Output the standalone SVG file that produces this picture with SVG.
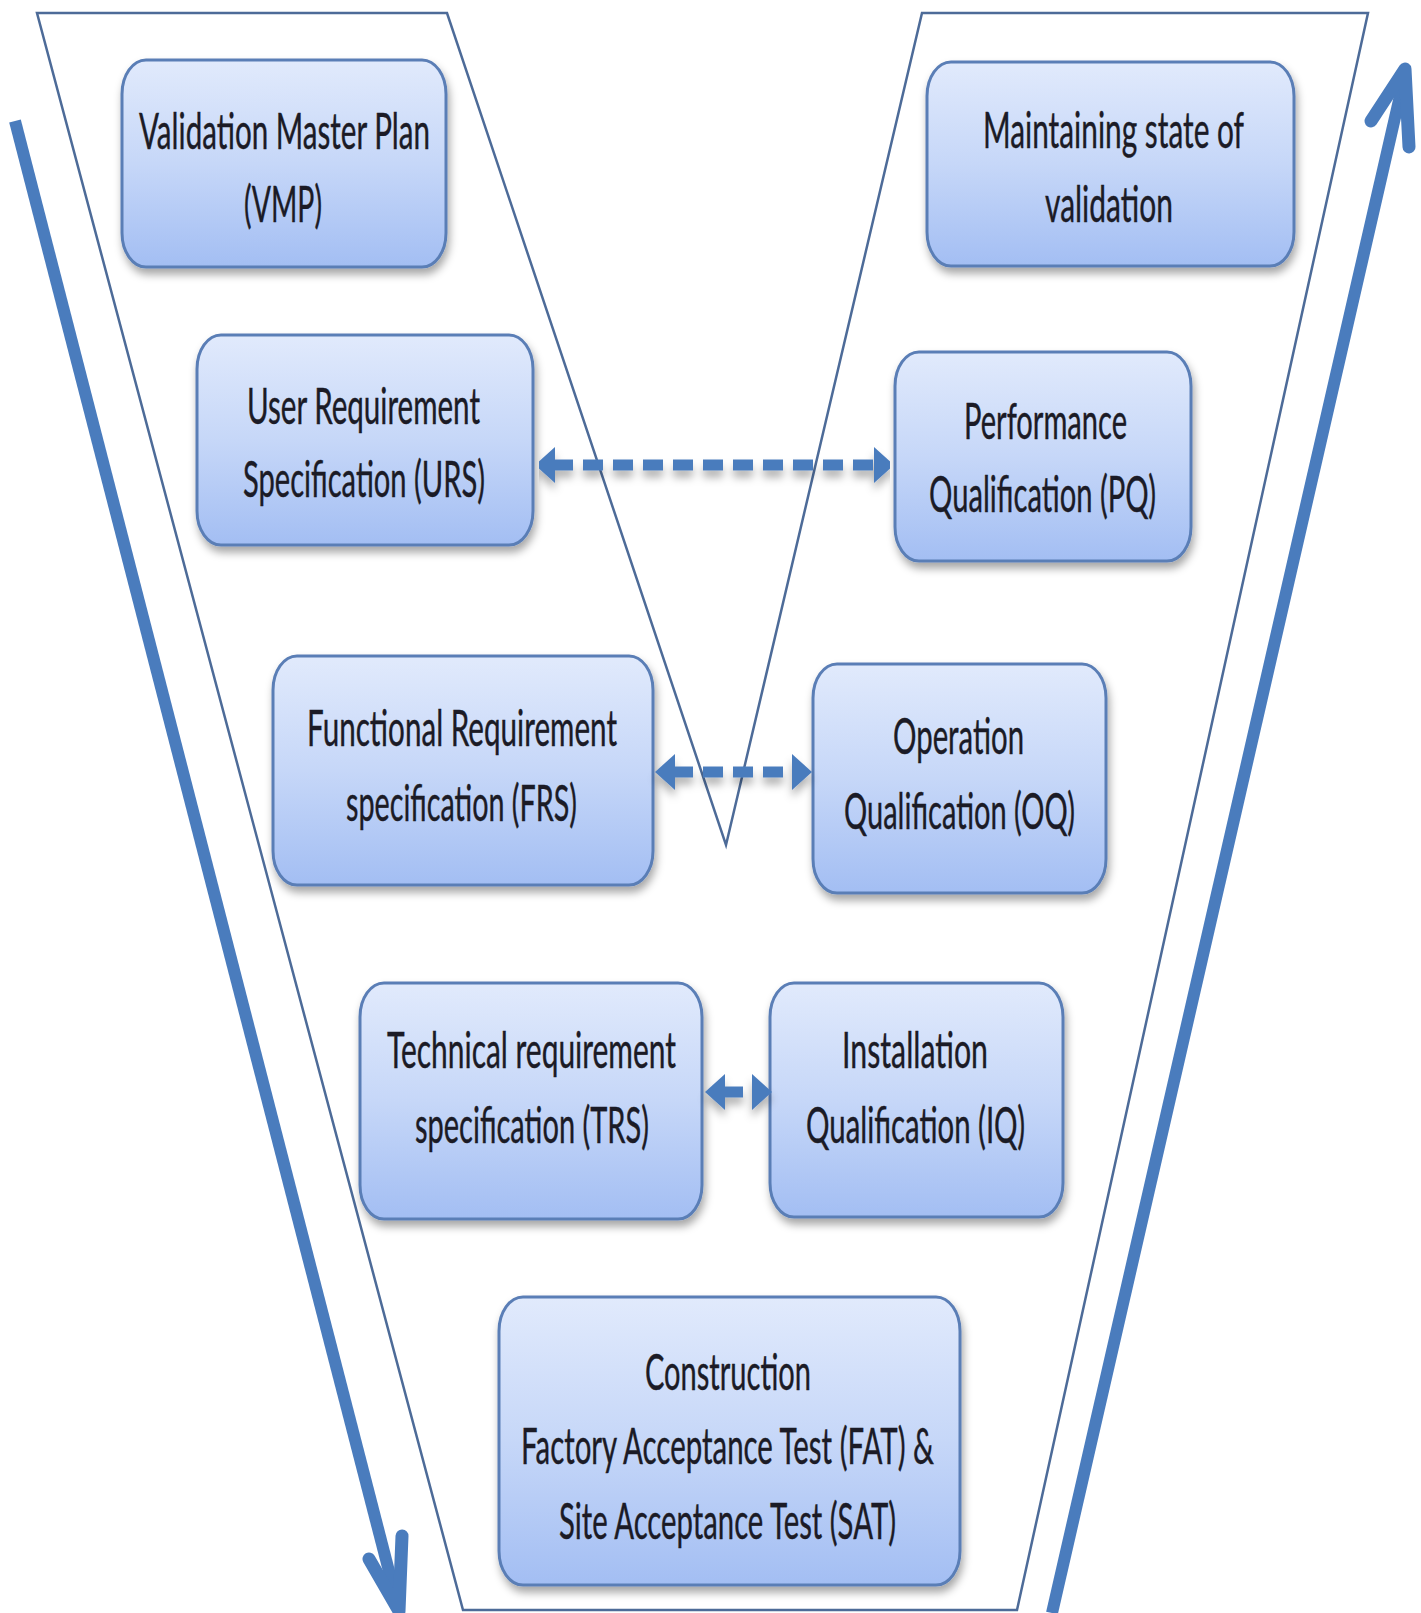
<svg xmlns="http://www.w3.org/2000/svg" width="1421" height="1613" viewBox="0 0 1421 1613">
<style>
.box{fill:url(#bg);stroke:#5a7eb6;stroke-width:3;filter:url(#sh)}
.t{font-family:Lato,"Open Sans","Liberation Sans",sans-serif;font-size:30px;fill:#1b1b26;text-anchor:middle;stroke:#1b1b26;stroke-width:0.25}
.frame{fill:none;stroke:#4d6b98;stroke-width:2.5;stroke-linejoin:miter}
.big{fill:none;stroke:#4a7cbd;stroke-width:12;stroke-linecap:butt}
.head{fill:none;stroke:#4a7cbd;stroke-width:13;stroke-linecap:round;stroke-linejoin:round}
.dash{stroke:#4a7cbd;stroke-width:11;stroke-dasharray:20 10;stroke-dashoffset:2;fill:none}
</style>
<defs>
<linearGradient id="bg" x1="0" y1="0" x2="0" y2="1">
<stop offset="0" stop-color="#e1eafc"/>
<stop offset="0.5" stop-color="#c6d7f8"/>
<stop offset="1" stop-color="#a3bef3"/>
</linearGradient>
<filter id="sh" x="-10%" y="-10%" width="125%" height="130%">
<feDropShadow dx="2" dy="6" stdDeviation="4" flood-color="#000" flood-opacity="0.35"/>
</filter>
<filter id="csh" x="-5%" y="-50%" width="110%" height="250%">
<feDropShadow dx="0" dy="7" stdDeviation="4" flood-color="#000" flood-opacity="0.3"/>
</filter>
<marker id="ah" viewBox="0 0 20 36" refX="0" refY="18" markerWidth="20" markerHeight="36" markerUnits="userSpaceOnUse" orient="auto-start-reverse">
<path d="M0,0 L20,18 L0,36 z" fill="#4a7cbd"/>
</marker>
</defs>
<rect width="1421" height="1613" fill="#ffffff"/>

<g id="frame">
<polygon class="frame" points="37,13 447,13 726,845 922,13 1368,13 1017,1610 463,1610"/>
</g>

<g id="flow-arrows">
<line class="big" x1="15" y1="121" x2="399" y2="1610"/>
<polyline class="head" points="369,1559 399,1611 402,1536"/>
<line class="big" x1="1052" y1="1613" x2="1405" y2="74"/>
<polyline class="head" points="1371,121 1405,69 1409,147"/>
</g>

<g id="node-vmp">
<rect class="box" x="122" y="60" width="324" height="207" rx="24" ry="34"/>
<text class="t" transform="translate(284.5,149) scale(1,1.7)" textLength="291" lengthAdjust="spacingAndGlyphs">Validation Master Plan</text>
<text class="t" transform="translate(283,222) scale(1,1.7)" textLength="78" lengthAdjust="spacingAndGlyphs">(VMP)</text>
</g>

<g id="node-maintain">
<rect class="box" x="927" y="62" width="367" height="204" rx="24" ry="34"/>
<text class="t" transform="translate(1113.5,148) scale(1,1.7)" textLength="261" lengthAdjust="spacingAndGlyphs">Maintaining state of</text>
<text class="t" transform="translate(1109,222) scale(1,1.7)" textLength="128" lengthAdjust="spacingAndGlyphs">validation</text>
</g>

<g id="node-urs">
<rect class="box" x="197" y="335" width="336" height="210" rx="24" ry="34"/>
<text class="t" transform="translate(363.5,424) scale(1,1.7)" textLength="233" lengthAdjust="spacingAndGlyphs">User Requirement</text>
<text class="t" transform="translate(364,497) scale(1,1.7)" textLength="242" lengthAdjust="spacingAndGlyphs">Specification (URS)</text>
</g>

<g id="node-pq">
<rect class="box" x="895" y="352" width="296" height="209" rx="24" ry="34"/>
<text class="t" transform="translate(1045.5,439) scale(1,1.7)" textLength="163" lengthAdjust="spacingAndGlyphs">Performance</text>
<text class="t" transform="translate(1042.5,512) scale(1,1.7)" textLength="227" lengthAdjust="spacingAndGlyphs">Qualification (PQ)</text>
</g>

<g id="node-frs">
<rect class="box" x="273" y="656" width="380" height="229" rx="24" ry="34"/>
<text class="t" transform="translate(462,746) scale(1,1.7)" textLength="310" lengthAdjust="spacingAndGlyphs">Functional Requirement</text>
<text class="t" transform="translate(461.5,821) scale(1,1.7)" textLength="231" lengthAdjust="spacingAndGlyphs">specification (FRS)</text>
</g>

<g id="node-oq">
<rect class="box" x="813" y="664" width="293" height="229" rx="24" ry="34"/>
<text class="t" transform="translate(958.5,754) scale(1,1.7)" textLength="131" lengthAdjust="spacingAndGlyphs">Operation</text>
<text class="t" transform="translate(959.5,829) scale(1,1.7)" textLength="231" lengthAdjust="spacingAndGlyphs">Qualification (OQ)</text>
</g>

<g id="node-trs">
<rect class="box" x="360" y="983" width="342" height="236" rx="24" ry="34"/>
<text class="t" transform="translate(531.5,1068) scale(1,1.7)" textLength="289" lengthAdjust="spacingAndGlyphs">Technical requirement</text>
<text class="t" transform="translate(532,1143) scale(1,1.7)" textLength="234" lengthAdjust="spacingAndGlyphs">specification (TRS)</text>
</g>

<g id="node-iq">
<rect class="box" x="770" y="983" width="293" height="234" rx="24" ry="34"/>
<text class="t" transform="translate(915,1068) scale(1,1.7)" textLength="146" lengthAdjust="spacingAndGlyphs">Installation</text>
<text class="t" transform="translate(915.5,1143) scale(1,1.7)" textLength="219" lengthAdjust="spacingAndGlyphs">Qualification (IQ)</text>
</g>

<g id="node-construction">
<rect class="box" x="499" y="1297" width="461" height="288" rx="24" ry="34"/>
<text class="t" transform="translate(728,1390) scale(1,1.7)" textLength="166" lengthAdjust="spacingAndGlyphs">Construction</text>
<text class="t" transform="translate(727.5,1464) scale(1,1.7)" textLength="413" lengthAdjust="spacingAndGlyphs">Factory Acceptance Test (FAT) &amp;</text>
<text class="t" transform="translate(727.5,1539) scale(1,1.7)" textLength="337" lengthAdjust="spacingAndGlyphs">Site Acceptance Test (SAT)</text>
</g>

<g id="connectors" filter="url(#csh)">
<line class="dash" x1="555" y1="465" x2="874" y2="465" marker-start="url(#ah)" marker-end="url(#ah)"/>
<line class="dash" x1="675" y1="772" x2="792" y2="772" marker-start="url(#ah)" marker-end="url(#ah)"/>
<line class="dash" x1="725" y1="1092" x2="752" y2="1092" marker-start="url(#ah)" marker-end="url(#ah)"/>
</g>
</svg>
